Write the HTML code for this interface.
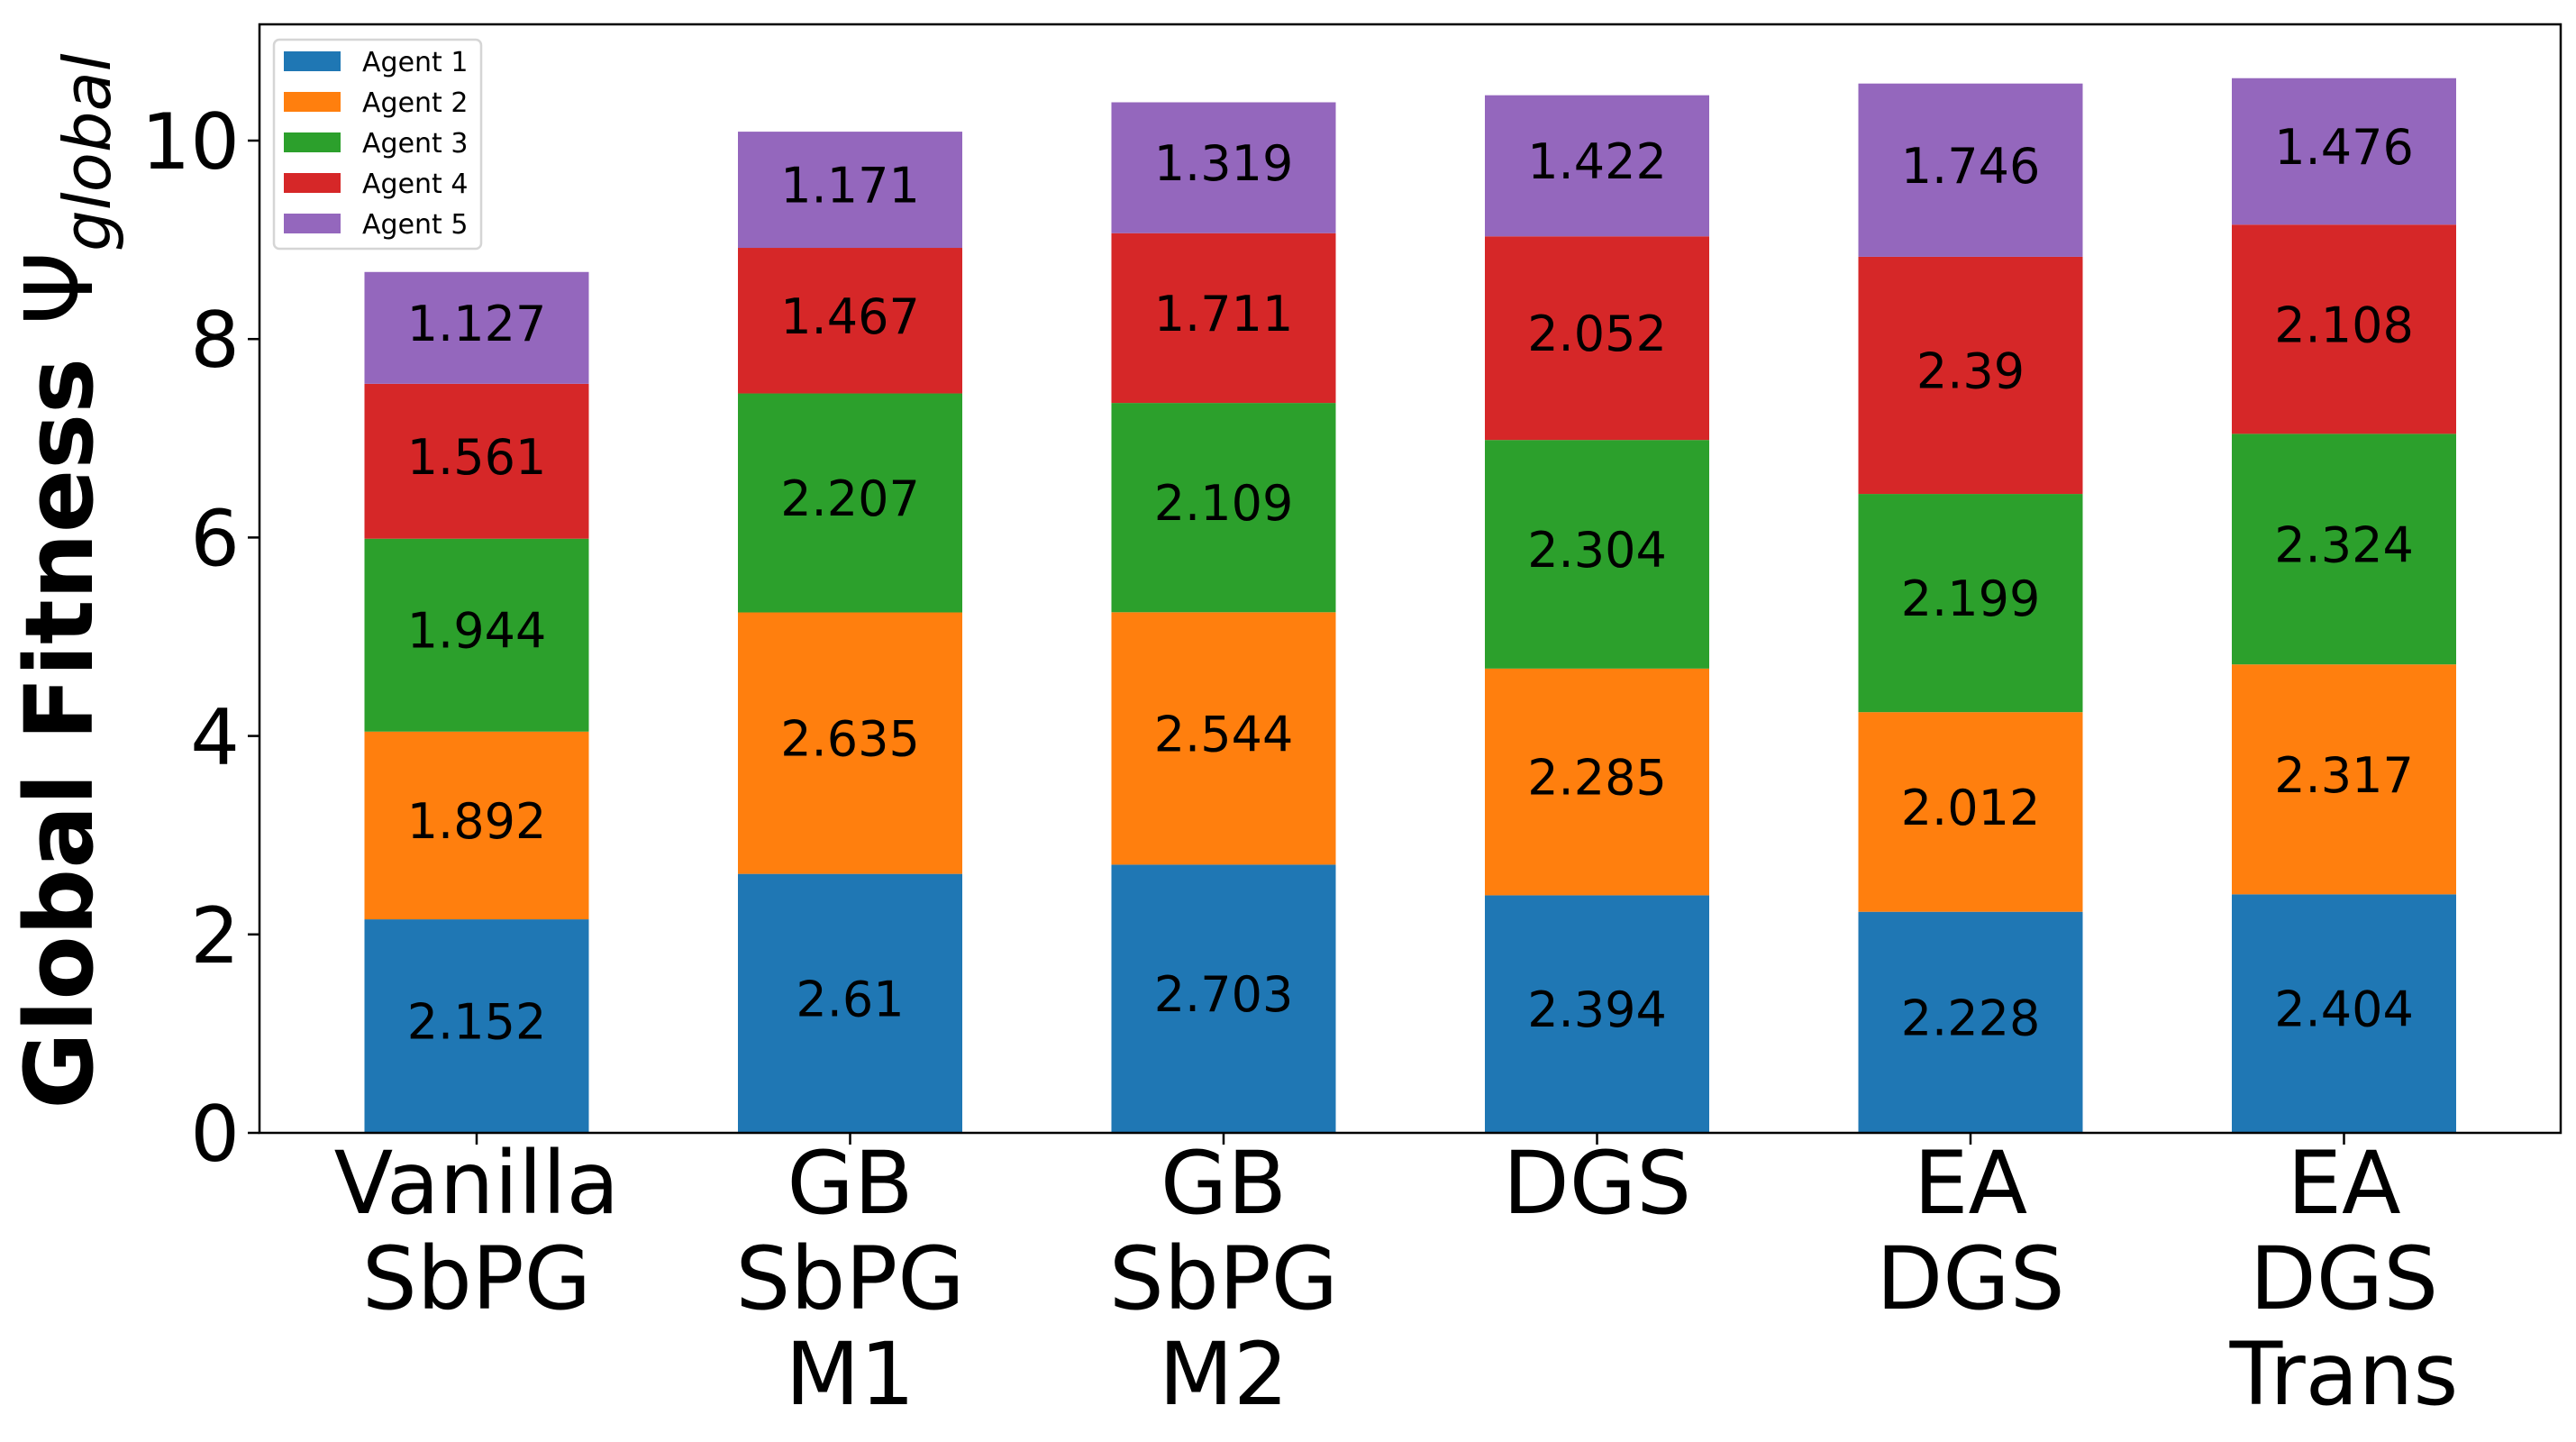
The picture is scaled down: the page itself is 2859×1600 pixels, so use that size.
<!DOCTYPE html>
<html><head><meta charset="utf-8"><style>
html,body{margin:0;padding:0;background:#fff;}
svg{display:block;font-family:"DejaVu Sans","Liberation Sans",sans-serif;}
</style></head><body>
<svg id="chart" width="2859" height="1600" viewBox="0 0 2859 1600" xmlns="http://www.w3.org/2000/svg">
<g id="bars"></g>
<g id="yaxis"></g>
<g id="xaxis"></g>
<rect x="288" y="27" width="2554" height="1230" fill="none" stroke="#000" stroke-width="2.5"/>
<text transform="translate(102,645) rotate(-90)" text-anchor="middle" font-size="104" font-weight="bold">Global Fitness <tspan font-weight="normal">Ψ</tspan><tspan font-size="72" font-weight="normal" font-style="italic" dy="20">global</tspan></text>
<g id="legend">
<rect x="304" y="44" width="230" height="232" rx="6" fill="#fff" stroke="#d5d5d5" stroke-width="2.5"/>
</g>
</svg>
<script>
const categories=[["Vanilla","SbPG"],["GB","SbPG","M1"],["GB","SbPG","M2"],["DGS"],["EA","DGS"],["EA","DGS","Trans"]];
const agent1=[2.152,2.61,2.703,2.394,2.228,2.404];
const agent2=[1.892,2.635,2.544,2.285,2.012,2.317];
const agent3=[1.944,2.207,2.109,2.304,2.199,2.324];
const agent4=[1.561,1.467,1.711,2.052,2.39,2.108];
const agent5=[1.127,1.171,1.319,1.422,1.746,1.476];
const seriesNames=["Agent 1","Agent 2","Agent 3","Agent 4","Agent 5"];
const yTicks=[0,2,4,6,8,10];
const series=[agent1,agent2,agent3,agent4,agent5];
const colors=["#1f77b4","#ff7f0e","#2ca02c","#d62728","#9467bd"];
const NS="http://www.w3.org/2000/svg";
const y0=1257, pxPerUnit=110.1;
const yScale=v=>y0-v*pxPerUnit;
const xCenter=i=>529+i*414.5;
const barW=249;
function mk(tag,attrs,parent,text){const e=document.createElementNS(NS,tag);for(const k in attrs)e.setAttribute(k,attrs[k]);if(text!==undefined)e.textContent=text;parent.appendChild(e);return e;}
const bars=document.getElementById('bars');
categories.forEach((c,i)=>{
  let base=0;
  series.forEach((s,j)=>{
    const v=s[i];
    const r=mk('rect',{x:xCenter(i)-barW/2,y:yScale(base+v),width:barW,height:v*pxPerUnit,fill:colors[j]},bars);
    
    
    const t=mk('text',{x:xCenter(i),y:yScale(base+v/2)+14,'text-anchor':'middle','font-size':54,fill:'#000'},bars,String(v));
    
    
    base+=v;
  });
});
const ya=document.getElementById('yaxis');
yTicks.forEach(v=>{
  const l=mk('line',{x1:275,x2:288,y1:yScale(v),y2:yScale(v),stroke:'#000','stroke-width':2.5},ya);
  
  
  const t=mk('text',{x:266,y:yScale(v)+31,'text-anchor':'end','font-size':86},ya,String(v));
  
  
});
const xa=document.getElementById('xaxis');
categories.forEach((c,i)=>{
  const l=mk('line',{x1:xCenter(i),x2:xCenter(i),y1:1257,y2:1270,stroke:'#000','stroke-width':2.5},xa);
  
  
  const t=mk('text',{'text-anchor':'middle','font-size':96},xa);
  
  
  c.forEach((line,k)=>{mk('tspan',{x:xCenter(i),y:1346+k*106},t,line);});
});
const lg=document.getElementById('legend');
seriesNames.forEach((n,j)=>{
  const r=mk('rect',{x:315,y:57+j*45,width:63,height:22,fill:colors[j]},lg);
  
  
  const t=mk('text',{x:402,y:79+j*45,'font-size':30},lg,n);
  
  
});
</script>
</body></html>
